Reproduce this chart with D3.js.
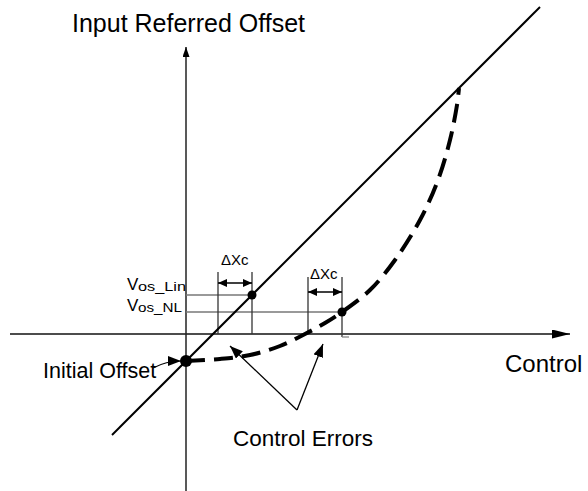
<!DOCTYPE html>
<html>
<head>
<meta charset="utf-8">
<script src="https://cdn.jsdelivr.net/npm/d3@7"></script>
<style>
  body { margin: 0; background: #fff; }
  svg text { font-family: "Liberation Sans", Arial, sans-serif; fill: #000; }
</style>
</head>
<body>
<svg id="chart" width="588" height="491"></svg>
<script>
// ideal (linear) offset: y = x + initialOffset
var initialOffset = -0.27
var linX = [-0.74, 3.54]
// nonlinear offset curve (dashed)
var nlX = [0, 0.34, 0.64, 0.94, 1.19, 1.39, 1.56, 1.84, 2.09, 2.34, 2.52, 2.64, 2.71, 2.73]
var nlY = [-0.27, -0.25, -0.21, -0.12, 0, 0.11, 0.22, 0.44, 0.74, 1.14, 1.54, 1.94, 2.29, 2.46]
var linPointX = 0.66
var nlPointIdx = 6
var deltaXc = 0.34
var bracketTop = [0.62, 0.57]
var bracketArrowY = [0.51, 0.42]
// control error arrows: apex and tips
var errApex = [1.11, -0.76]
var errTipsX = [0.44, 1.37]
var errTipsY = [-0.12, -0.10]

var titleText = "Input Referred Offset"
var xAxisText = "Control"
var initText = "Initial Offset"
var errText = "Control Errors"
var deltaText = "\u0394Xc"

var svg = d3.select('#chart')
var x = d3.scaleLinear().domain([-1.76, 3.84]).range([10, 570])
var y = d3.scaleLinear().domain([-1.57, 2.87]).range([491, 47])

var defs = svg.append('defs')
function marker(id, len, half) {
  defs.append('marker')
      .attr('id', id)
      .attr('markerUnits', 'userSpaceOnUse')
      .attr('viewBox', '0 ' + (-half) + ' ' + len + ' ' + (2 * half))
      .attr('refX', len).attr('refY', 0)
      .attr('markerWidth', len).attr('markerHeight', 2 * half)
      .attr('orient', 'auto-start-reverse')
    .append('path')
      .attr('d', 'M0,' + (-half) + 'L' + len + ',0L0,' + half + 'Z')
      .attr('fill', '#000')
}
marker('xArrow', 18, 4.5)
marker('yArrow', 10, 3.5)
marker('smallArrow', 9, 4)
marker('errArrow', 13, 5)

// axes
svg.append('line')
    .attr('x1', x(-1.76)).attr('y1', y(0))
    .attr('x2', x(3.84)).attr('y2', y(0))
    .attr('stroke', '#111').attr('stroke-width', 1.5)
    .attr('marker-end', 'url(#xArrow)')
svg.append('line')
    .attr('x1', x(0)).attr('y1', y(-1.57))
    .attr('x2', x(0)).attr('y2', y(2.87))
    .attr('stroke', '#222').attr('stroke-width', 1.5)
    .attr('marker-end', 'url(#yArrow)')

// offset reference lines
var linY = linPointX + initialOffset
var hLines = [linY, nlY[nlPointIdx]]
var hEnds = [linPointX, nlX[nlPointIdx]]
svg.selectAll('.hline').data(hLines).enter()
    .append('line').attr('class', 'hline')
    .attr('x1', x(0)).attr('x2', function(d, i) { return x(hEnds[i]) })
    .attr('y1', function(d) { return y(d) }).attr('y2', function(d) { return y(d) })
    .attr('stroke', '#777').attr('stroke-width', 1.3)

// delta Xc brackets
var bracketRight = [linPointX, nlX[nlPointIdx]]
bracketRight.forEach(function(r, i) {
  var l = r - deltaXc
  ;[l, r].forEach(function(bx, j) {
    var bottom = (i == 1 && j == 1) ? -0.03 : 0
    svg.append('line')
        .attr('x1', x(bx)).attr('x2', x(bx))
        .attr('y1', y(bracketTop[i])).attr('y2', y(bottom))
        .attr('stroke', '#333').attr('stroke-width', 1.3)
  })
  svg.append('line')
      .attr('x1', x(l)).attr('x2', x(r))
      .attr('y1', y(bracketArrowY[i])).attr('y2', y(bracketArrowY[i]))
      .attr('stroke', '#000').attr('stroke-width', 1.5)
      .attr('marker-start', 'url(#smallArrow)')
      .attr('marker-end', 'url(#smallArrow)')
})
svg.append('line')
    .attr('x1', x(nlX[nlPointIdx])).attr('x2', x(nlX[nlPointIdx]) + 7)
    .attr('y1', y(-0.03)).attr('y2', y(-0.03))
    .attr('stroke', '#888').attr('stroke-width', 1.3)

// linear line
svg.append('line')
    .attr('x1', x(linX[0])).attr('y1', y(linX[0] + initialOffset))
    .attr('x2', x(linX[1])).attr('y2', y(linX[1] + initialOffset))
    .attr('stroke', '#000').attr('stroke-width', 2)

// nonlinear dashed curve
var nlLine = d3.line()
    .x(function(d, i) { return x(nlX[i]) })
    .y(function(d, i) { return y(nlY[i]) })
    .curve(d3.curveCatmullRom)
svg.append('path')
    .attr('d', nlLine(nlX))
    .attr('fill', 'none')
    .attr('stroke', '#000').attr('stroke-width', 4)
    .attr('stroke-dasharray', '19,9')

// dots
var dotX = [0, linPointX, nlX[nlPointIdx]]
var dotY = [initialOffset, linY, nlY[nlPointIdx]]
var dotR = [6, 4.5, 4.5]
svg.selectAll('.dot').data(dotX).enter()
    .append('circle').attr('class', 'dot')
    .attr('cx', function(d) { return x(d) })
    .attr('cy', function(d, i) { return y(dotY[i]) })
    .attr('r', function(d, i) { return dotR[i] })
    .attr('fill', '#000')

// control error arrows
errTipsX.forEach(function(tx, i) {
  svg.append('line')
      .attr('x1', x(errApex[0])).attr('y1', y(errApex[1]))
      .attr('x2', x(tx)).attr('y2', y(errTipsY[i]))
      .attr('stroke', '#000').attr('stroke-width', 1.3)
      .attr('marker-end', 'url(#errArrow)')
})

// initial offset arrow
var p0 = [x(-0.33), y(-0.34)], pc = [x(-0.2), y(-0.27)], p1 = [x(-0.05), y(initialOffset)]
svg.append('path')
    .attr('d', 'M' + p0 + 'Q' + pc + ' ' + p1)
    .attr('fill', 'none')
    .attr('stroke', '#000').attr('stroke-width', 1.2)
    .attr('marker-end', 'url(#errArrow)')

// texts
svg.append('text').attr('x', 72).attr('y', 32).attr('font-size', 25).text(titleText)
svg.append('text').attr('x', 505).attr('y', 372).attr('font-size', 24).text(xAxisText)
svg.append('text').attr('x', 43).attr('y', 378).attr('font-size', 21.5).text(initText)
svg.append('text').attr('x', 233).attr('y', 446).attr('font-size', 22.5).text(errText)
svg.append('text').attr('x', 221).attr('y', 265).attr('font-size', 15).text(deltaText)
svg.append('text').attr('x', 310).attr('y', 279).attr('font-size', 15).text(deltaText)

var vosSub = ['os_Lin', 'os_NL']
var vosBase = [290, 311]
var vosSubW = [48, 44]
vosSub.forEach(function(s, i) {
  svg.append('text').attr('x', 127).attr('y', vosBase[i]).attr('font-size', 17).text('V')
  svg.append('text').attr('x', 138).attr('y', vosBase[i] + 1).attr('font-size', 13.5)
      .attr('textLength', vosSubW[i]).attr('lengthAdjust', 'spacingAndGlyphs').text(s)
})
</script>
</body>
</html>
